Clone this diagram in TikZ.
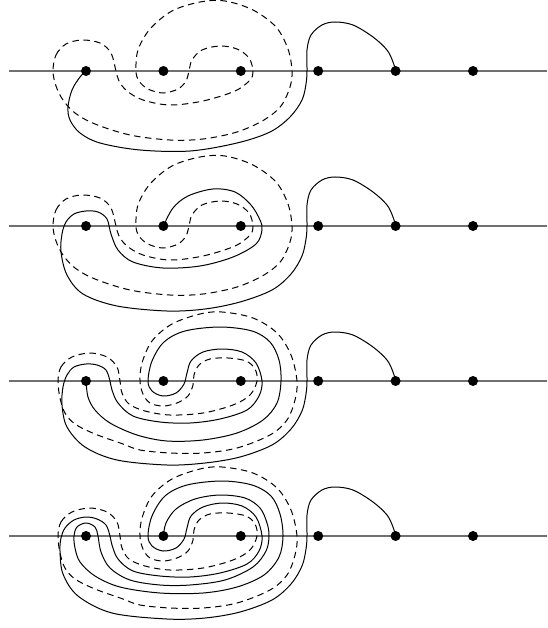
\documentclass[tikz,border=0pt]{standalone}
\definecolor{axisgray}{RGB}{112,112,112}
\begin{document}
\begin{tikzpicture}[x=1pt,y=-1pt,
  axis/.style={draw=axisgray,line width=1.9pt},
  dot/.style={circle,fill=black,inner sep=0pt,minimum size=10pt},
  arcline/.style={draw=black,line width=1pt},
  darcline/.style={draw=black,line width=1pt,dash pattern=on 6.5pt off 4.5pt}]
\useasboundingbox (0,0) rectangle (547,628);
% axes and dot positions
\foreach \p/\yy in {1/71,2/226,3/381,4/536}{
  \coordinate (l\p) at (9,\yy);
  \coordinate (r\p) at (547,\yy);
  \draw[axis] (l\p) -- (r\p);
  \foreach \i/\xx in {1/86,2/163.4,3/240.8,4/318.2,5/395.6,6/473}{
    \coordinate (p\p-\i) at (\xx,\yy);
  }
}
% dashed curve, panels 1 and 2
\foreach \yy in {71,226}{
\begin{scope}[shift={(0,\yy)}]
\draw[darcline] plot[smooth cycle,tension=0.55] coordinates {
 (53,0) (56,-16) (66,-27) (82,-31) (100,-28) (111,-18) (116,0) (119,10) (127,20)
 (143,29) (170,34) (203,30) (235,20) (250,9) (253,0) (249,-13) (237,-22) (220,-25)
 (202,-21) (192,-11) (189,0) (186,10) (178,18) (163,22) (148,18) (139,10) (136,0)
 (138,-21) (150,-42) (172,-60) (200,-69) (225,-70) (253,-61) (276,-44) (288,-22)
 (292,0) (290,16) (281,35) (264,49) (237,61) (203,68) (170,69) (130,64) (95,53)
 (75,42) (63,29) (56,15)};
\end{scope}}
% dashed curve, panels 3 and 4
\foreach \yy in {381,536}{
\begin{scope}[shift={(0,\yy)}]
\draw[darcline] plot[smooth cycle,tension=0.55] coordinates {
 (58,0) (61,-14) (72,-24) (90,-28) (107,-24) (117,-14) (120,0) (122,12) (129,23)
 (145,30) (170,34) (203,32) (233,24) (250,14) (257,0) (255,-12) (246,-20) (228,-23)
 (210,-22) (199,-16) (194,-6) (193,4) (188,15) (177,22) (163,25) (150,22) (143,13)
 (140,0) (142,-18) (152,-40) (172,-57) (200,-67) (222,-69) (253,-63) (277,-48)
 (291,-26) (297,0) (295,19) (287,39) (270,54) (237,67) (203,72) (170,72) (140,69)
 (123,63) (95,53) (75,43) (65,32) (60,17)};
\end{scope}}
% solid curve, panel 1
\begin{scope}[shift={(0,71)}]
\draw[arcline] plot[smooth,tension=0.55] coordinates {
 (p1-1) (80,6) (72,19) (68,36) (70,49) (80,62) (100,72) (140,79) (190,80) (237,72)
 (270,61) (290,46) (302,29) (306,13) (307,0) (307,-21) (311,-36) (322,-46) (335,-49)
 (353,-46) (373,-34) (387,-21) (393,-9) (p1-5)};
\end{scope}
% solid curve, panel 2
\begin{scope}[shift={(0,226)}]
\draw[arcline] plot[smooth,tension=0.55] coordinates {
 (p2-2) (173,-18) (188,-30) (213,-37) (235,-34) (251,-21) (260,-6) (262,4) (256,18)
 (233,31) (200,40) (163,42) (133,36) (118,24) (111,8) (107,-7) (98,-14) (86,-15)
 (74,-12) (66,-4) (62,8) (61,26) (67,49) (83,68) (117,80) (167,85) (205,83) (240,76)
 (272,64) (291,48) (302,30) (306,13) (307,0) (307,-21) (311,-36) (322,-46) (335,-49)
 (353,-46) (373,-34) (387,-21) (393,-9) (p2-5)};
\end{scope}
% solid curve, panel 3
\begin{scope}[shift={(0,381)}]
\draw[arcline] plot[smooth,tension=0.55] coordinates {
 (p3-1) (88,16) (95,29) (110,42) (137,54) (167,60) (203,59) (237,52) (263,39) (277,22)
 (281,0) (279,-21) (270,-39) (252,-50) (220,-54) (185,-50) (164,-39) (152,-20) (148,0)
 (152,10) (163,15) (176,12) (184,3) (187,-8) (191,-20) (203,-29) (222,-32) (242,-29)
 (256,-18) (262,0) (259,15) (247,29) (220,38) (190,42) (160,41) (133,35) (118,22)
 (112,9) (110,0) (106,-11) (97,-16) (86,-17) (74,-14) (67,-6) (63,6) (62,24) (67,46)
 (85,66) (117,79) (167,84) (205,82) (240,76) (272,64) (291,48) (302,30) (306,13)
 (307,0) (307,-21) (311,-36) (322,-46) (335,-49) (353,-46) (373,-34) (387,-21)
 (393,-9) (p3-5)};
\end{scope}
% solid curve, panel 4
\begin{scope}[shift={(0,536)}]
\draw[arcline] plot[smooth,tension=0.55] coordinates {
 (p4-2) (166,-13) (176,-27) (195,-37) (220,-41) (245,-38) (260,-28) (267,-13) (269,0)
 (266,15) (253,31) (225,44) (190,49) (160,49) (130,44) (110,32) (101,16) (98,0)
 (95,-9) (86,-13) (77,-9) (74,0) (75,12) (80,26) (95,40) (120,51) (160,57) (203,57)
 (237,51) (264,39) (279,21) (283,0) (280,-22) (271,-40) (252,-51) (222,-55) (187,-51)
 (165,-40) (152,-20) (148,0) (152,10) (163,15) (176,12) (184,3) (187,-8) (191,-20)
 (203,-29) (222,-33) (242,-30) (256,-19) (262,0) (259,15) (247,28) (220,37) (190,41)
 (160,40) (133,35) (118,23) (112,9) (110,0) (106,-11) (97,-17) (86,-19) (74,-16)
 (65,-8) (61,2) (60,15) (63,38) (78,60) (112,77) (167,83) (205,82) (240,76) (272,64)
 (291,48) (302,30) (306,13) (307,0) (307,-21) (311,-36) (322,-46) (335,-49) (353,-46)
 (373,-34) (387,-21) (393,-9) (p4-5)};
\end{scope}
% dots
\foreach \p in {1,2,3,4}{
  \foreach \i in {1,...,6}{
    \node[dot] (d\p-\i) at (p\p-\i) {};
  }
}
\end{tikzpicture}
\end{document}
